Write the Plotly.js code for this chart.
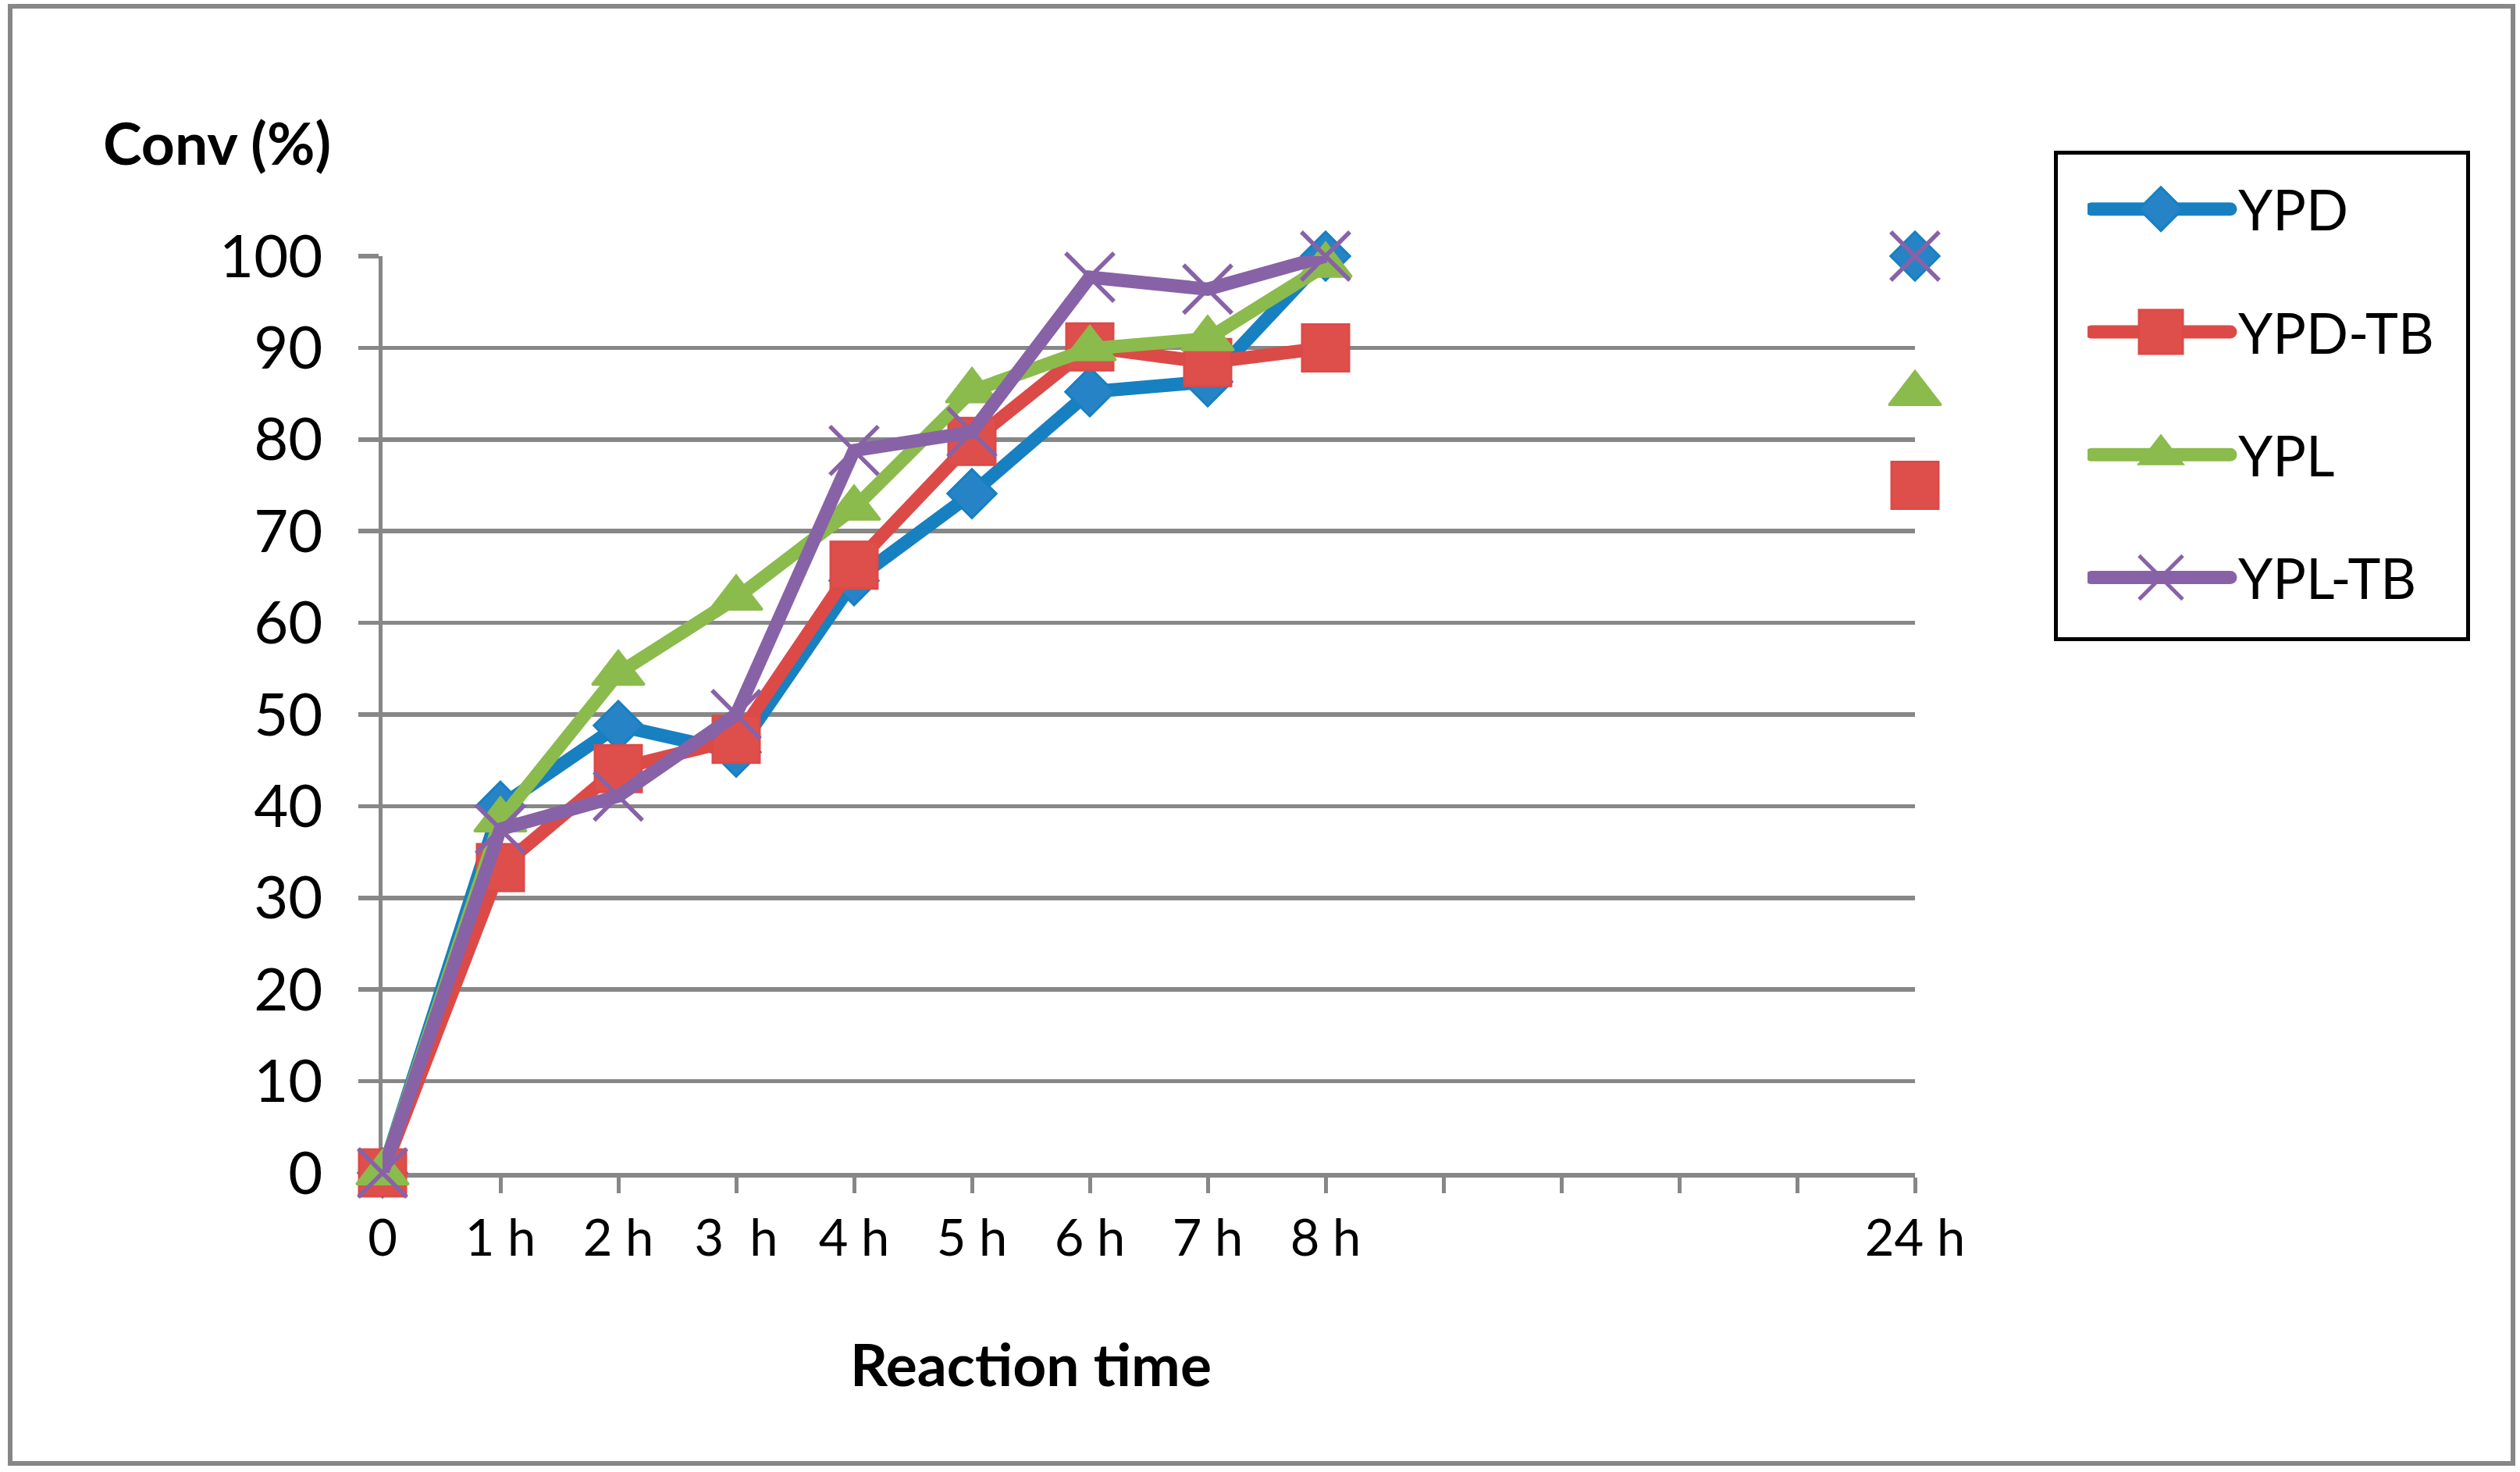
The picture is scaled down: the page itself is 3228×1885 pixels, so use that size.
<!DOCTYPE html>
<html>
<head>
<meta charset="utf-8">
<script src="https://cdn.plot.ly/plotly-3.0.1.min.js"></script>
<style>
  html, body { margin: 0; padding: 0; background: #ffffff; }
  #chart { width: 3228px; height: 1885px; }
</style>
</head>
<body>
<div id="chart"></div>
<script>
// ---- data ----
var timeIndex  = [0, 1, 2, 3, 4, 5, 6, 7, 8, 9, 10, 11, 12, 13];
var tickLabels = ['0', '1 h', '2 h', '3\u00a0 h', '4 h', '5 h', '6 h', '7 h', '8 h', '', '', '', '', '24 h'];
var seriesNames = ['YPD', 'YPD-TB', 'YPL', 'YPL-TB'];

var YPD    = [0, 40.0, 48.8, 45.9, 64.6, 74.1, 85.2, 86.3, 100, null, null, null, null, 100];
var YPD_TB = [0, 33.3, 44.1, 47.3, 66.3, 79.8, 90.1, 88.4, 90.0, null, null, null, null, 75];
var YPL    = [0, 38.5, 54.5, 62.7, 72.5, 85.3, 89.9, 91.0, 99.0, null, null, null, null, 85];
var YPL_TB = [0, 37.5, 41.1, 50.0, 78.8, 80.8, 97.7, 96.4, 100, null, null, null, null, 100];

var yTickVals = [0, 10, 20, 30, 40, 50, 60, 70, 80, 90, 100];

// ---- styling ----
var FONT = "Lato, 'Open Sans', 'DejaVu Sans', sans-serif";
var GRID = '#878787';
var LINE_W = 17;

function trace(name, y, lineColor, symbol, size, fill, mline, group) {
  return {
    type: 'scatter', mode: 'lines+markers', name: name,
    x: timeIndex, y: y, connectgaps: false, cliponaxis: false,
    legendgroup: group,
    line: { color: lineColor, width: LINE_W },
    marker: { symbol: symbol, size: size, color: fill,
              line: { color: mline, width: symbol === 'x-thin' ? 5.5 : 3 } }
  };
}

var data = [
  trace(seriesNames[0], YPD,    '#1780C1', 'diamond',     48, '#2684C6', '#1780C1', 'g1'),
  trace(seriesNames[1], YPD_TB, '#DC4A47', 'square',      60, '#DE4F4C', '#DC4A47', 'g2'),
  trace(seriesNames[2], YPL,    '#8BBB4C', 'triangle-up', 58, '#8BBB4C', '#8BBB4C', 'g3'),
  trace(seriesNames[3], YPL_TB, '#8862A6', 'x-thin',      62, '#8862A6', '#8862A6', 'g4')
];

// plot area in pixels: x 490..2453, y 328..1502
var PL = 490, PR = 2453, PT = 328, PB = 1502;
function px(x) { return (x - PL) / (PR - PL); }
function py(y) { return (PB - y) / (PB - PT); }

var layout = {
  width: 3228, height: 1885,
  margin: { l: PL, r: 3228 - PR, t: PT, b: 1885 - PB, pad: 0, autoexpand: false },
  paper_bgcolor: '#ffffff', plot_bgcolor: '#ffffff',
  font: { family: FONT, color: '#000000' },
  showlegend: true,
  xaxis: {
    range: [0, 13], tickmode: 'array', tickvals: timeIndex, ticktext: tickLabels,
    showgrid: false, zeroline: false,
    showline: true, linecolor: GRID, linewidth: 6,
    ticks: 'outside', ticklen: 20, tickwidth: 5, tickcolor: GRID,
    tickfont: { family: FONT, size: 65, color: '#000' },
    ticklabelstandoff: 2,
    layer: 'below traces', fixedrange: true
  },
  yaxis: {
    range: [0, 100], tickmode: 'array', tickvals: yTickVals,
    showgrid: true, gridcolor: GRID, gridwidth: 5.5, zeroline: false,
    showline: true, linecolor: GRID, linewidth: 5.5,
    ticks: 'outside', ticklen: 26, tickwidth: 5.5, tickcolor: GRID,
    tickfont: { family: FONT, size: 76, color: '#000' },
    ticklabelstandoff: 30,
    layer: 'below traces', fixedrange: true
  },
  legend: {
    x: px(2674), y: py(215), xanchor: 'left', yanchor: 'top',
    bgcolor: 'rgba(0,0,0,0)', borderwidth: 0,
    font: { family: FONT, size: 71, color: '#000' },
    itemwidth: 183, traceorder: 'grouped', tracegroupgap: 62,
    itemclick: false, itemdoubleclick: false
  },
  annotations: [
    { text: '<b>Conv (%)</b>', xref: 'paper', yref: 'paper', x: px(278), y: py(182),
      xanchor: 'center', yanchor: 'middle', showarrow: false,
      font: { family: FONT, size: 75, color: '#000' } },
    { text: '<b>Reaction time</b>', xref: 'paper', yref: 'paper', x: px(1320), y: py(1746),
      xanchor: 'center', yanchor: 'middle', showarrow: false,
      font: { family: FONT, size: 75, color: '#000' } }
  ],
  shapes: [
    { type: 'rect', xref: 'paper', yref: 'paper', layer: 'below',
      x0: px(13), x1: px(3219), y0: py(1874), y1: py(8),
      line: { color: GRID, width: 6 }, fillcolor: 'rgba(0,0,0,0)' },
    { type: 'rect', xref: 'paper', yref: 'paper', layer: 'above',
      x0: px(2633.5), x1: px(3161.5), y0: py(818.5), y1: py(195.5),
      line: { color: '#000000', width: 5 }, fillcolor: 'rgba(0,0,0,0)' }
  ]
};

var gd = document.getElementById('chart');
Plotly.newPlot(gd, data, layout, { displayModeBar: false, staticPlot: true }).then(function () {
  try {
    var items = gd.querySelectorAll('.legend .traces');
    items.forEach(function (t) {
      var ln = t.querySelector('.legendlines path');
      if (ln) {
        ln.setAttribute('d', 'M5,0h178');
        ln.style.strokeWidth = '17px';
        ln.style.strokeLinecap = 'round';
      }
      var pts = t.querySelectorAll('.legendpoints path');
      pts.forEach(function (p) {
        var bb = p.getBBox();
        var m = Math.max(bb.width, bb.height) || 1;
        var s = 56 / m;
        var sw = parseFloat(p.style.strokeWidth) || 0;
        var target = sw >= 4 ? 5 : 3;
        p.setAttribute('transform', 'translate(94,0) scale(' + s + ')');
        p.style.strokeWidth = (target / s) + 'px';
      });
    });
  } catch (e) {}
});
</script>
</body>
</html>
